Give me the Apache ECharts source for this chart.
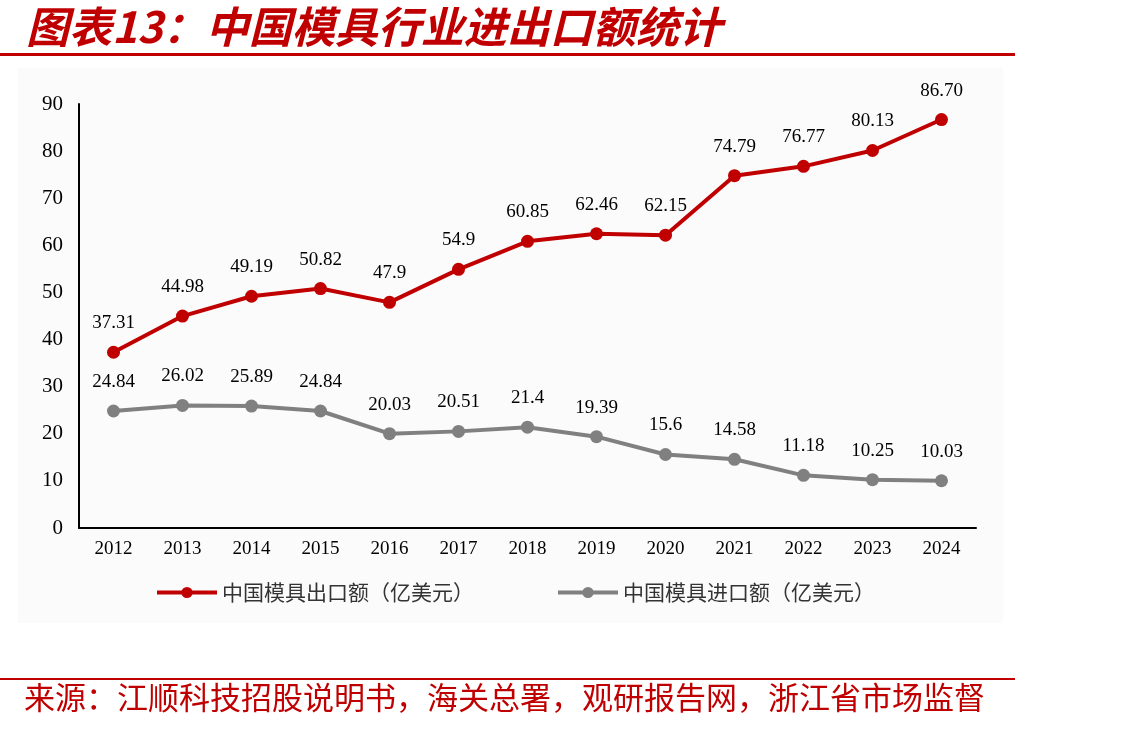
<!DOCTYPE html>
<html>
<head>
<meta charset="utf-8">
<script src="https://cdn.jsdelivr.net/npm/echarts@6/dist/echarts.min.js"></script>
<style>
  html, body { margin: 0; padding: 0; background: #fff; }
  #chart { width: 1135px; height: 732px; }
</style>
</head>
<body>
<div id="chart"></div>
<script>
const years = ['2012', '2013', '2014', '2015', '2016', '2017', '2018', '2019', '2020', '2021', '2022', '2023', '2024']
const exportValues = [37.31, 44.98, 49.19, 50.82, 47.9, 54.9, 60.85, 62.46, 62.15, 74.79, 76.77, 80.13, 86.7]
const importValues = [24.84, 26.02, 25.89, 24.84, 20.03, 20.51, 21.4, 19.39, 15.6, 14.58, 11.18, 10.25, 10.03]
const exportLabels = ['37.31', '44.98', '49.19', '50.82', '47.9', '54.9', '60.85', '62.46', '62.15', '74.79', '76.77', '80.13', '86.70']

const chart = echarts.init(document.getElementById('chart'))

const serif = '"Liberation Serif", "Times New Roman", serif'
const cjk = '"Noto Sans CJK SC", sans-serif'

chart.setOption({
  animation: false,
  backgroundColor: '#fff',
  graphic: [
    { type: 'rect', shape: { x: 18, y: 68, width: 985, height: 555 }, style: { fill: '#fbfbfb' }, z: -10 },
    {
      type: 'text', left: 26, top: 5,
      style: { text: '图表13：中国模具行业进出口额统计', fill: '#c00000', font: 'italic bold 43px ' + cjk }
    },
    { type: 'rect', shape: { x: 0, y: 53, width: 1015, height: 3 }, style: { fill: '#c00000' } },
    { type: 'rect', shape: { x: 0, y: 678, width: 1015, height: 2 }, style: { fill: '#c00000' } },
    {
      type: 'text', left: 24, top: 682,
      style: { text: '来源：江顺科技招股说明书，海关总署，观研报告网，浙江省市场监督', fill: '#c00000', font: '31px ' + cjk }
    }
  ],
  legend: {
    top: 577,
    left: 150,
    itemGap: 82,
    itemWidth: 60,
    itemHeight: 14,
    lineStyle: { width: 4 },
    textStyle: { fontFamily: cjk, fontSize: 21, color: '#333' },
    data: ['中国模具出口额（亿美元）', '中国模具进口额（亿美元）']
  },
  grid: { left: 79, right: 159, top: 104, bottom: 204 },
  xAxis: {
    type: 'category',
    data: years,
    axisLine: { lineStyle: { color: '#000', width: 2 } },
    axisTick: { show: false },
    axisLabel: { fontFamily: serif, fontSize: 19, color: '#000', margin: 12 }
  },
  yAxis: {
    type: 'value',
    min: 0,
    max: 90,
    interval: 10,
    axisLine: { show: true, lineStyle: { color: '#000', width: 2 } },
    axisTick: { show: false },
    splitLine: { show: false },
    axisLabel: { fontFamily: serif, fontSize: 21, color: '#000', margin: 16 }
  },
  series: [
    {
      name: '中国模具出口额（亿美元）',
      type: 'line',
      data: exportValues,
      symbol: 'circle',
      symbolSize: 13,
      color: '#c00000',
      lineStyle: { width: 4, color: '#c00000' },
      label: {
        show: true,
        position: 'top',
        distance: 13,
        fontFamily: serif,
        fontSize: 19,
        color: '#000',
        formatter: (p) => exportLabels[p.dataIndex]
      }
    },
    {
      name: '中国模具进口额（亿美元）',
      type: 'line',
      data: importValues,
      symbol: 'circle',
      symbolSize: 13,
      color: '#808080',
      lineStyle: { width: 4, color: '#808080' },
      label: {
        show: true,
        position: 'top',
        distance: 13,
        fontFamily: serif,
        fontSize: 19,
        color: '#000'
      }
    }
  ]
})
</script>
</body>
</html>
